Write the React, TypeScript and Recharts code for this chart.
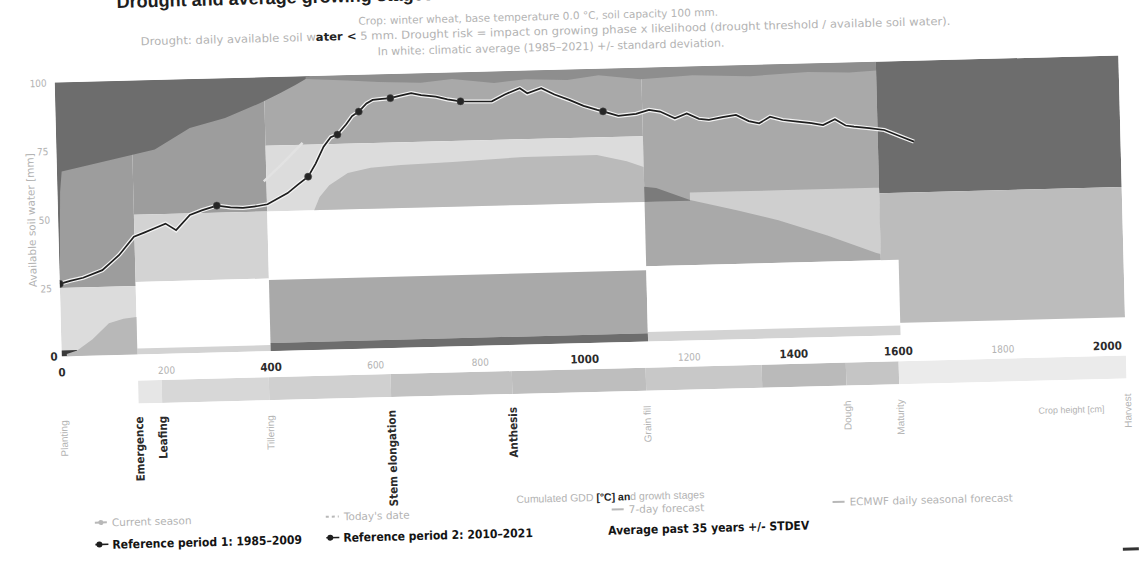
import React from 'react';
import { ComposedChart, Area, Line, XAxis, YAxis } from 'recharts';

// ---------- data ----------
const GDD_DOMAIN: [number, number] = [0, 2035];
const xTickValues = [0, 200, 400, 600, 800, 1000, 1200, 1400, 1600, 1800, 2000];
const xTicksDark = [0, 400, 1000, 1400, 1600, 2000];
const yTickValues = [0, 25, 50, 75, 100];

// Average past 35 years (available soil water, mm) against cumulated GDD
const averageSeries = [
  { x: 0, y: 26.5, mark: true }, { x: 20, y: 27.5 }, { x: 45, y: 28.5 }, { x: 82, y: 31.1 },
  { x: 100, y: 34 }, { x: 115, y: 36.5 }, { x: 144, y: 43 }, { x: 165, y: 44.5 },
  { x: 185, y: 46 }, { x: 205, y: 47.5 }, { x: 225, y: 45 }, { x: 252, y: 50.4 },
  { x: 275, y: 52 }, { x: 304, y: 53.6, mark: true }, { x: 330, y: 52.8 }, { x: 354, y: 52.5 },
  { x: 380, y: 53 }, { x: 401, y: 53.6 }, { x: 420, y: 55.5 }, { x: 440, y: 57.5 },
  { x: 460, y: 60.5 }, { x: 480, y: 63.3, mark: true }, { x: 495, y: 68 }, { x: 511, y: 74.1 },
  { x: 525, y: 77.5 }, { x: 538, y: 78.4, mark: true }, { x: 555, y: 82 }, { x: 567, y: 85 },
  { x: 580, y: 86.6, mark: true }, { x: 595, y: 89.5 }, { x: 607, y: 90.7 }, { x: 625, y: 91 },
  { x: 641, y: 91.2, mark: true }, { x: 660, y: 92 }, { x: 681, y: 92.8 }, { x: 700, y: 92 },
  { x: 728, y: 91.3 }, { x: 750, y: 90.2 }, { x: 775, y: 89.4, mark: true }, { x: 800, y: 89.2 },
  { x: 835, y: 89.1 }, { x: 860, y: 91.5 }, { x: 889, y: 93.6 }, { x: 903, y: 91.7 },
  { x: 930, y: 93.4 }, { x: 955, y: 91 }, { x: 983, y: 88.9 }, { x: 1010, y: 86.6 },
  { x: 1036, y: 85 }, { x: 1047, y: 84.4, mark: true }, { x: 1076, y: 82.6 }, { x: 1110, y: 83.2 },
  { x: 1135, y: 84.5 }, { x: 1156, y: 83.8 }, { x: 1184, y: 81.2 }, { x: 1207, y: 82.9 },
  { x: 1230, y: 80.8 }, { x: 1249, y: 80.3 }, { x: 1275, y: 81.2 }, { x: 1301, y: 81.9 },
  { x: 1325, y: 79.5 }, { x: 1345, y: 78.6 }, { x: 1366, y: 80.9 }, { x: 1390, y: 79.6 },
  { x: 1418, y: 78.9 }, { x: 1445, y: 78.2 }, { x: 1467, y: 77.4 }, { x: 1490, y: 79.4 },
  { x: 1510, y: 77 }, { x: 1526, y: 76.5 }, { x: 1555, y: 75.8 }, { x: 1584, y: 75 },
  { x: 1615, y: 72.5 }, { x: 1640, y: 70.5 },
];

const currentSeason = [
  { x: 395, y: 62 }, { x: 430, y: 68 }, { x: 471, y: 75.7 },
];

// drought-risk zones per growth phase: GDD range x water range
const riskZones = [
  { x1: 0, x2: 145, y1: 25, y2: 100, risk: 'high' },
  { x1: 0, x2: 145, y1: 0, y2: 25, risk: 'pale' },
  { x1: 145, x2: 400, y1: 51, y2: 100, risk: 'high' },
  { x1: 145, x2: 400, y1: 26.5, y2: 51, risk: 'low' },
  { x1: 145, x2: 400, y1: 2.2, y2: 26.5, risk: 'none' },
  { x1: 145, x2: 400, y1: 0, y2: 2.2, risk: 'low' },
  { x1: 400, x2: 1122, y1: 75, y2: 100, risk: 'moderate' },
  { x1: 400, x2: 1122, y1: 51, y2: 75, risk: 'pale' },
  { x1: 400, x2: 1122, y1: 26, y2: 51, risk: 'none' },
  { x1: 400, x2: 1122, y1: 3, y2: 26, risk: 'moderate' },
  { x1: 400, x2: 1122, y1: 0, y2: 3, risk: 'severe' },
  { x1: 1122, x2: 1571, y1: 27.5, y2: 100, risk: 'moderate' },
  { x1: 1571, x2: 2035, y1: 52, y2: 100, risk: 'severe' },
  { x1: 1571, x2: 2035, y1: 4.5, y2: 52, risk: 'mild' },
  { x1: 1122, x2: 1605, y1: 3.5, y2: 27.5, risk: 'none' },
  { x1: 1122, x2: 1605, y1: 0, y2: 3.5, risk: 'low' },
  { x1: 0, x2: 30, y1: 0, y2: 2.2, risk: 'today' },
];

// curved envelopes (lower / upper bounds)
const severeEnvelope = [
  { x: 0, lo: 26.5, hi: 100 }, { x: 5, lo: 60, hi: 100 }, { x: 9, lo: 67.5, hi: 100 },
  { x: 60, lo: 69.5, hi: 100 }, { x: 121, lo: 71.9, hi: 100 }, { x: 188, lo: 74.6, hi: 100 },
  { x: 256, lo: 82.2, hi: 100 }, { x: 324, lo: 85.5, hi: 100 }, { x: 392, lo: 90.6, hi: 100 },
  { x: 430, lo: 94, hi: 100 }, { x: 460, lo: 96.9, hi: 100 }, { x: 490, lo: 100, hi: 100 },
];
const upperEdge = [
  { x: 480, lo: 99, hi: 100 }, { x: 560, lo: 98, hi: 100 }, { x: 620, lo: 97.2, hi: 100 },
  { x: 700, lo: 96.5, hi: 100 }, { x: 760, lo: 97.6, hi: 100 }, { x: 840, lo: 95.8, hi: 100 },
  { x: 900, lo: 96.8, hi: 100 }, { x: 980, lo: 96.2, hi: 100 }, { x: 1040, lo: 97.6, hi: 100 },
  { x: 1120, lo: 95.8, hi: 100 }, { x: 1220, lo: 96.8, hi: 100 }, { x: 1330, lo: 95.9, hi: 100 },
  { x: 1440, lo: 96.9, hi: 100 }, { x: 1520, lo: 96.3, hi: 100 }, { x: 1571, lo: 96.8, hi: 100 },
];
const emergenceBump = [
  { x: 10, lo: 0, hi: 0.8 }, { x: 30, lo: 0, hi: 2 }, { x: 60, lo: 0, hi: 6 },
  { x: 92, lo: 0, hi: 11.7 }, { x: 120, lo: 0, hi: 13.2 }, { x: 145, lo: 0, hi: 13.7 },
];
const stdevLower = [
  { x: 490, lo: 51, hi: 51 }, { x: 501, lo: 51, hi: 55.8 }, { x: 520, lo: 51, hi: 60 },
  { x: 556, lo: 51, hi: 64.3 }, { x: 600, lo: 51, hi: 66 }, { x: 658, lo: 51, hi: 66.7 },
  { x: 757, lo: 51, hi: 67.3 }, { x: 894, lo: 51, hi: 68.5 }, { x: 1033, lo: 51, hi: 68.5 },
  { x: 1090, lo: 51, hi: 66 }, { x: 1122, lo: 51, hi: 63.7 },
];
const grainFillNotch = [
  { x: 1122, lo: 51, hi: 56.5 }, { x: 1145, lo: 51, hi: 56 }, { x: 1209, lo: 51, hi: 51.3 },
];
const grainFillWedge = [
  { x: 1209, lo: 51.3, hi: 54 }, { x: 1300, lo: 47, hi: 54 }, { x: 1377, lo: 43.1, hi: 54 },
  { x: 1470, lo: 37, hi: 54 }, { x: 1563, lo: 30.2, hi: 54 }, { x: 1571, lo: 29.8, hi: 54 },
];

// growth stages
const stageNames = ['Planting', 'Emergence', 'Leafing', 'Tillering', 'Stem elongation', 'Anthesis', 'Grain fill', 'Dough', 'Maturity', 'Harvest'];
const stageGdd = [0, 145, 190, 395, 628, 860, 1116, 1499, 1600, 2035];
const stagesDark = ['Emergence', 'Leafing', 'Stem elongation', 'Anthesis'];
const stageBarBounds = [145, 190, 395, 628, 860, 1116, 1338, 1499, 1600, 2035];
const stageBarFill = ['#e6e6e6', '#d7d7d7', '#d0d0d0', '#c2c2c2', '#bebebe', '#c8c8c8', '#bababa', '#c5c5c5', '#ebebeb'];

const legendRow1 = ['Current season', "Today's date", '7-day forecast', 'ECMWF daily seasonal forecast'];
const legendRow2 = ['Reference period 1: 1985–2009', 'Reference period 2: 2010–2021', 'Average past 35 years +/- STDEV'];

// ---------- styles ----------
const riskFill: Record<string, string> = {
  severe: '#6d6d6d', high: '#9d9d9d', moderate: '#a9a9a9', mild: '#bcbcbc',
  low: '#d3d3d3', pale: '#dcdcdc', none: '#ffffff', today: '#3a3a3a',
};
const NARROW = "'Liberation Sans Narrow', 'DejaVu Sans Condensed', 'Arial Narrow', sans-serif";
const SANS = "'Liberation Sans', Arial, sans-serif";
const WIDE = "'DejaVu Sans', Verdana, sans-serif";
const FADED = '#b3b3b3';

const toRange = (pts: { x: number; lo: number; hi: number }[]) => pts.map((p) => ({ x: p.x, r: [p.lo, p.hi] }));
const rectData = (z: { x1: number; x2: number; y1: number; y2: number }) => [
  { x: z.x1, r: [z.y1, z.y2] }, { x: z.x2, r: [z.y1, z.y2] },
];

const MainXTick = (props: any) => {
  const { x, y, payload } = props;
  const dark = xTicksDark.includes(payload.value);
  return (
    <text x={x} y={y + 12} textAnchor="middle" fontFamily={NARROW} fontSize={dark ? 11.5 : 10}
      fontWeight={dark ? 700 : 400} fill={dark ? '#2b2b2b' : FADED}>{payload.value}</text>
  );
};
const MainYTick = (props: any) => {
  const { x, y, payload } = props;
  const dark = payload.value === 0;
  return (
    <text x={dark ? x + 4 : x} y={y + 4} textAnchor="end" fontFamily={NARROW} fontSize={dark ? 11.5 : 10}
      fontWeight={dark ? 700 : 400} fill={dark ? '#2b2b2b' : FADED}>{payload.value}</text>
  );
};
const StageTick = (props: any) => {
  const { x, y, payload } = props;
  const name = stageNames[stageGdd.indexOf(payload.value)] ?? '';
  const dark = stagesDark.includes(name);
  const tx = x + 4;
  const ty = y + (dark ? 5 : 7);
  return (
    <text x={tx} y={ty} transform={`rotate(-90, ${tx}, ${ty})`} textAnchor="end" fontFamily={dark ? NARROW : SANS}
      fontSize={dark ? 11.5 : 10} fontWeight={dark ? 700 : 400} fill={dark ? '#2b2b2b' : FADED}>{name}</text>
  );
};

const AvgDot = (props: any) => {
  const { cx, cy, payload, index } = props;
  if (!payload || !payload.mark) return <g key={`d${index}`} />;
  return <circle key={`d${index}`} cx={cx} cy={cy} r={3.6} fill="#262626" stroke="#555" strokeWidth={0.5} />;
};

const areaProps = {
  type: 'linear' as const, dataKey: 'r', stroke: 'none', fillOpacity: 1,
  isAnimationActive: false, dot: false, activeDot: false, legendType: 'none' as const,
};

export default function App() {
  return (
    <div style={{ position: 'absolute', left: 0, top: 0, width: 1145, height: 581, overflow: 'hidden', background: '#fff' }}>
      <div style={{ position: 'absolute', left: 0, top: 0, width: 1145, height: 581, transform: 'rotate(-1.45deg)', transformOrigin: '590px 206px' }}>
        <div style={{ position: 'absolute', left: 0, top: 0 }}>
          <ComposedChart width={1145} height={400} margin={{ top: 69, right: 23, bottom: 27, left: 8 }}>
            <XAxis dataKey="x" type="number" domain={GDD_DOMAIN} ticks={xTickValues} interval={0} allowDataOverflow
              axisLine={false} tickLine={false} height={30} tick={MainXTick} />
            <YAxis type="number" domain={[0, 100]} ticks={yTickValues} interval={0} allowDataOverflow
              axisLine={false} tickLine={false} width={50} tick={MainYTick} />
            {riskZones.map((z, i) => (
              <Area key={`z${i}`} {...areaProps} data={rectData(z)} fill={riskFill[z.risk]} />
            ))}
            <Area key="env" {...areaProps} data={toRange(severeEnvelope)} fill={riskFill.severe} />
            <Area key="edge" {...areaProps} data={toRange(upperEdge)} fill="#8e8e8e" />
            <Area key="bump" {...areaProps} data={toRange(emergenceBump)} fill="#b8b8b8" />
            <Area key="std" {...areaProps} data={toRange(stdevLower)} fill="#bababa" />
            <Area key="notch" {...areaProps} data={toRange(grainFillNotch)} fill="#7b7b7b" />
            <Area key="wedge" {...areaProps} data={toRange(grainFillWedge)} fill="#cfcfcf" />
            <Line data={currentSeason} dataKey="y" type="linear" stroke="#e2e2e2" strokeWidth={2.5} dot={false} activeDot={false} isAnimationActive={false} />
            <Line data={averageSeries} dataKey="y" type="linear" stroke="#f3f3f3" strokeWidth={4.2} dot={false} activeDot={false} isAnimationActive={false} />
            <Line data={averageSeries} dataKey="y" type="linear" stroke="#1e1e1e" strokeWidth={1.7} dot={AvgDot} activeDot={false} isAnimationActive={false} />
          </ComposedChart>
        </div>

        <div style={{ position: 'absolute', left: 0, top: 369 }}>
          <ComposedChart width={1145} height={173} margin={{ top: 0, right: 23, bottom: 0, left: 58 }}>
            <XAxis dataKey="x" type="number" domain={GDD_DOMAIN} ticks={stageGdd} interval={0} allowDataOverflow
              axisLine={false} tickLine={false} height={150} tick={StageTick} />
            <YAxis hide width={0} type="number" domain={[0, 1]} allowDataOverflow />
            {stageBarFill.map((f, i) => (
              <Area key={`s${i}`} {...areaProps} fill={f}
                data={[{ x: stageBarBounds[i], r: [0, 1] }, { x: stageBarBounds[i + 1], r: [0, 1] }]} />
            ))}
          </ComposedChart>
        </div>

        <svg width={1145} height={581} style={{ position: 'absolute', left: 0, top: 0, overflow: 'visible', pointerEvents: 'none' }}>
          <text x={122} y={-4} fontFamily={SANS} fontWeight={700} fontSize={18} fill="#1e1e1e">Drought and average growing stages</text>
          <text x={543} y={19} textAnchor="middle" fontFamily={WIDE} fontSize={10.5} fill={FADED}>Crop: winter wheat, base temperature 0.0 °C, soil capacity 100 mm.</text>
          <text x={550} y={34} textAnchor="middle" fontFamily={WIDE} fontSize={11} fill={FADED} textLength={810} lengthAdjust="spacingAndGlyphs">
            Drought: daily available soil w<tspan fill="#222" fontWeight={700}>ater &lt;</tspan> 5 mm. Drought risk = impact on growing phase x likelihood (drought threshold / available soil water).
          </text>
          <text x={555} y={50} textAnchor="middle" fontFamily={WIDE} fontSize={11} fill={FADED}>In white: climatic average (1985–2021) +/- standard deviation.</text>
          <text x={35} y={206} transform="rotate(-90, 35, 206)" textAnchor="middle" fontFamily={WIDE} fontSize={10.5} fill={FADED}>Available soil water [mm]</text>
          <text x={603} y={501} textAnchor="middle" fontFamily={SANS} fontSize={10.5} fill={FADED}>
            Cumulated GDD <tspan fill="#222" fontWeight={700}>[°C] an</tspan>d growth stages
          </text>
          <text x={1066} y={425} textAnchor="middle" fontFamily={SANS} fontSize={9} fill={FADED}>Crop height [cm]</text>

          {/* legend row 1 */}
          <line x1={87} y1={510} x2={99} y2={510} stroke="#b8b8b8" strokeWidth={2} />
          <circle cx={93} cy={510} r={2.5} fill="#b8b8b8" />
          <text x={104} y={514} fontFamily={WIDE} fontSize={10.5} fill={FADED}>{legendRow1[0]}</text>
          <line x1={318} y1={510} x2={331} y2={510} stroke="#b8b8b8" strokeWidth={2} strokeDasharray="3 3" />
          <text x={336} y={514} fontFamily={WIDE} fontSize={10.5} fill={FADED}>{legendRow1[1]}</text>
          <line x1={604} y1={510} x2={616} y2={510} stroke="#b8b8b8" strokeWidth={2} />
          <text x={621} y={514} fontFamily={WIDE} fontSize={10.5} fill={FADED}>{legendRow1[2]}</text>
          <line x1={825} y1={508} x2={837} y2={508} stroke="#b8b8b8" strokeWidth={2} />
          <text x={842} y={512} fontFamily={WIDE} fontSize={10.5} fill={FADED}>{legendRow1[3]}</text>

          {/* legend row 2 */}
          <line x1={87} y1={532} x2={100} y2={532} stroke="#1e1e1e" strokeWidth={1.6} />
          <circle cx={91} cy={532} r={3} fill="#1e1e1e" />
          <text x={104} y={536.5} fontFamily={NARROW} fontWeight={700} fontSize={12} fill="#141414">{legendRow2[0]}</text>
          <line x1={318} y1={531} x2={331} y2={531} stroke="#1e1e1e" strokeWidth={1.6} />
          <circle cx={322} cy={531} r={3} fill="#1e1e1e" />
          <text x={335} y={535.5} fontFamily={NARROW} fontWeight={700} fontSize={12} fill="#141414">{legendRow2[1]}</text>
          <text x={600} y={535} fontFamily={NARROW} fontWeight={700} fontSize={12} fill="#141414">{legendRow2[2]}</text>
          <rect x={1114} y={561} width={16} height={3} fill="#333" />
        </svg>
      </div>
    </div>
  );
}
